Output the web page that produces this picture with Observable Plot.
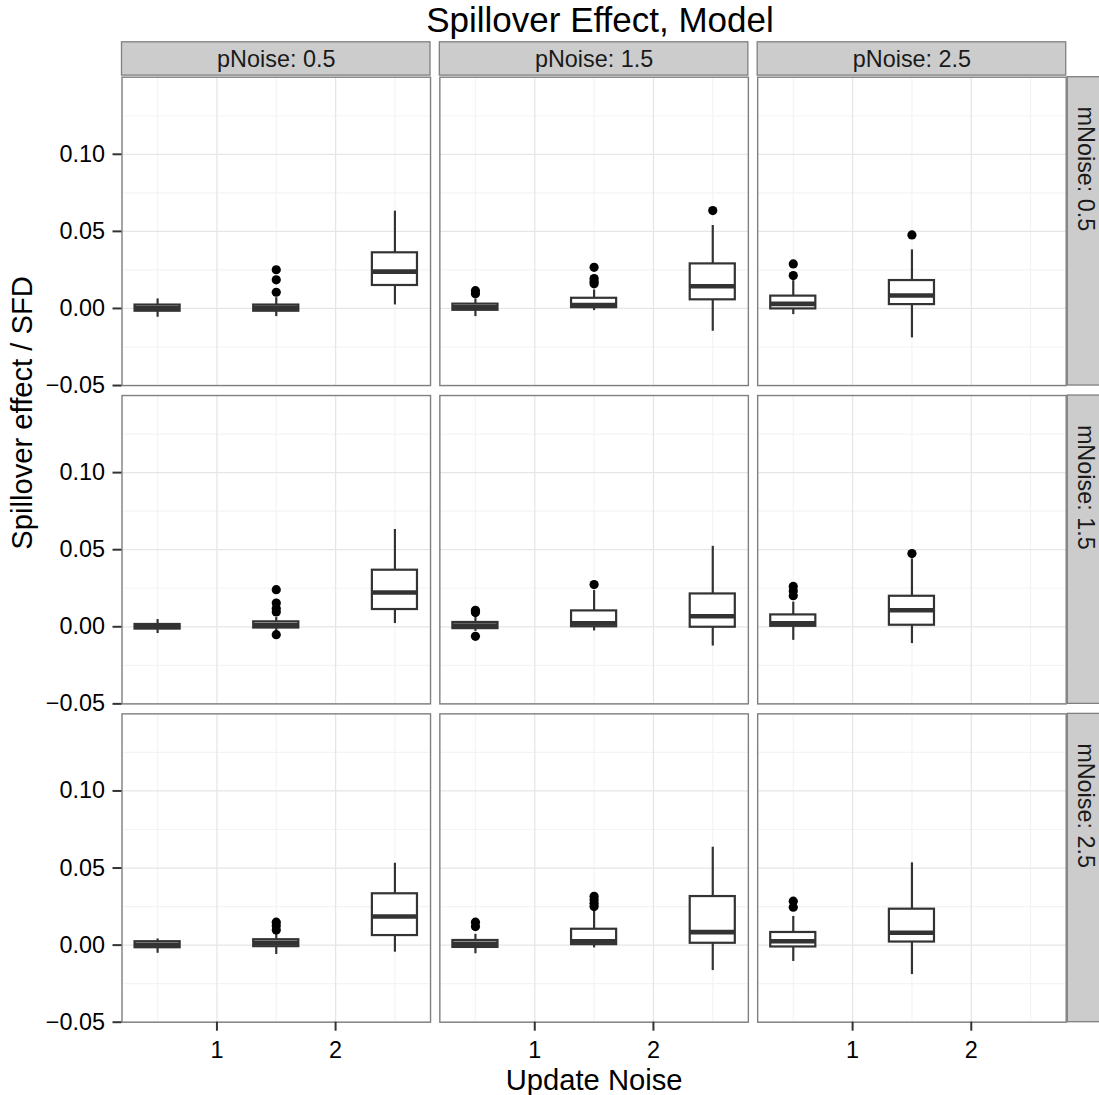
<!DOCTYPE html>
<html><head><meta charset="utf-8">
<script src="https://cdn.jsdelivr.net/npm/d3@7"></script>
<script src="https://cdn.jsdelivr.net/npm/@observablehq/plot@0.6"></script>
<style>
body{margin:0;background:#fff;font-family:"Liberation Sans",Arial,Helvetica,sans-serif;}
#title{height:40px;line-height:40px;font-size:35px;text-align:center;padding-left:101px;width:1099px;box-sizing:border-box;color:#000;white-space:nowrap;}
</style></head><body>
<div id="title">Spillover Effect, Model</div>
<div id="chart"></div>
<script>
// ---- data ----
const pNoiseLabels = ["pNoise: 0.5", "pNoise: 1.5", "pNoise: 2.5"];
const mNoiseLabels = ["mNoise: 0.5", "mNoise: 1.5", "mNoise: 2.5"];
const xTicks = [1, 2];
const yTicks = [-0.05, 0.00, 0.05, 0.10];
const xMinorGrid = [0.5, 1.5, 2.5];
const yMinorGrid = [-0.025, 0.025, 0.075, 0.125];

// one entry per box (mNoise row, pNoise column, update noise)
const boxM = [0.5,0.5,0.5,0.5,0.5,0.5,0.5,0.5, 1.5,1.5,1.5,1.5,1.5,1.5,1.5,1.5, 2.5,2.5,2.5,2.5,2.5,2.5,2.5,2.5];
const boxP = [0.5,0.5,0.5,1.5,1.5,1.5,2.5,2.5, 0.5,0.5,0.5,1.5,1.5,1.5,2.5,2.5, 0.5,0.5,0.5,1.5,1.5,1.5,2.5,2.5];
const boxU = [0.5,1.5,2.5,0.5,1.5,2.5,0.5,1.5, 0.5,1.5,2.5,0.5,1.5,2.5,0.5,1.5, 0.5,1.5,2.5,0.5,1.5,2.5,0.5,1.5];
const boxLo  = [-0.0057,-0.0053,0.0023,-0.0053,-0.0014,-0.0148,-0.0040,-0.0191, -0.0044,-0.0030,0.0021,-0.0030,-0.0027,-0.0125,-0.0088,-0.0109, -0.0053,-0.0061,-0.0046,-0.0056,-0.0018,-0.0165,-0.0106,-0.0191];
const boxQ1  = [-0.0018,-0.0018,0.0149,-0.0012,0.0005,0.0056,-0.0003,0.0025, -0.0015,-0.0008,0.0112,-0.0012,0.0000,-0.0003,0.0003,0.0010, -0.0017,-0.0010,0.0062,-0.0015,0.0003,0.0012,-0.0012,0.0020];
const boxMed = [0.0002,0.0005,0.0239,0.0008,0.0022,0.0144,0.0030,0.0084, 0.0000,0.0012,0.0222,0.0008,0.0022,0.0068,0.0022,0.0107, 0.0002,0.0015,0.0186,0.0008,0.0025,0.0084,0.0025,0.0080];
const boxQ3  = [0.0022,0.0022,0.0361,0.0028,0.0066,0.0289,0.0080,0.0181, 0.0015,0.0032,0.0367,0.0028,0.0103,0.0213,0.0077,0.0198, 0.0022,0.0035,0.0333,0.0030,0.0103,0.0315,0.0082,0.0233];
const boxHi  = [0.0062,0.0070,0.0631,0.0060,0.0120,0.0538,0.0180,0.0380, 0.0047,0.0060,0.0631,0.0060,0.0235,0.0522,0.0160,0.0440, 0.0040,0.0080,0.0531,0.0070,0.0220,0.0635,0.0186,0.0534];

// outliers
const outM = [0.5,0.5,0.5, 0.5,0.5, 0.5,0.5,0.5,0.5, 0.5, 0.5,0.5, 0.5,
              1.5,1.5,1.5,1.5,1.5, 1.5,1.5,1.5, 1.5, 1.5,1.5,1.5, 1.5,
              2.5,2.5,2.5, 2.5,2.5, 2.5,2.5,2.5,2.5, 2.5,2.5];
const outP = [0.5,0.5,0.5, 1.5,1.5, 1.5,1.5,1.5,1.5, 1.5, 2.5,2.5, 2.5,
              0.5,0.5,0.5,0.5,0.5, 1.5,1.5,1.5, 1.5, 2.5,2.5,2.5, 2.5,
              0.5,0.5,0.5, 1.5,1.5, 1.5,1.5,1.5,1.5, 2.5,2.5];
const outU = [1.5,1.5,1.5, 0.5,0.5, 1.5,1.5,1.5,1.5, 2.5, 0.5,0.5, 1.5,
              1.5,1.5,1.5,1.5,1.5, 0.5,0.5,0.5, 1.5, 0.5,0.5,0.5, 1.5,
              1.5,1.5,1.5, 0.5,0.5, 1.5,1.5,1.5,1.5, 0.5,0.5];
const outV = [0.0105,0.0186,0.0251, 0.0115,0.0095, 0.0267,0.0194,0.0175,0.0160, 0.0635, 0.0213,0.0289, 0.0477,
              0.0241,0.0154,0.0118,0.0096,-0.0051, 0.0107,0.0092,-0.0062, 0.0274, 0.0262,0.0232,0.0202, 0.0475,
              0.0149,0.0125,0.0098, 0.0149,0.0120, 0.0317,0.0295,0.0272,0.0250, 0.0285,0.0246];

const title = "Spillover Effect, Model";
const xTitle = "Update Noise";
const yTitle = "Spillover effect / SFD";

// ---- tables ----
const boxes = boxU.map((u, i) => ({
  fx: "pNoise: " + boxP[i], fy: "mNoise: " + boxM[i], u,
  lo: boxLo[i], q1: boxQ1[i], med: boxMed[i], q3: boxQ3[i], hi: boxHi[i]
}));
const outliers = outV.map((v, i) => ({
  fx: "pNoise: " + outP[i], fy: "mNoise: " + outM[i], u: outU[i], v
}));

// ---- layout ----
const W = 1099, H = 1055;
const mL = 121.5, mR = 33.3, mT = 36.7, mB = 73.3;
const pIx = 0.0293, pIy = 0.0314;
const stepX = (W - mL - mR) / (3 - pIx), bwX = stepX * (1 - pIx);
const stepY = (H - mT - mB) / (3 - pIy), bwY = stepY * (1 - pIy);
const stripH = 33.3, stripGap = 1.6;
const half = 0.19;
const ink = "#333333";
const font = "'Liberation Sans', Arial, Helvetica, sans-serif";

const chart = Plot.plot({
  width: W, height: H,
  marginLeft: mL, marginRight: mR, marginTop: mT, marginBottom: mB,
  style: {fontFamily: font, fontSize: "23.4px", color: "#000", background: "transparent", overflow: "visible"},
  x: {domain: [0.2, 2.8], label: null},
  y: {domain: [-0.05, 0.15], label: null},
  fx: {domain: pNoiseLabels, paddingInner: pIx, paddingOuter: 0, round: false, axis: null, label: null},
  fy: {domain: mNoiseLabels, paddingInner: pIy, paddingOuter: 0, round: false, axis: null, label: null},
  marks: [
    // minor then major grid
    Plot.ruleX(xMinorGrid, {stroke: "#f4f4f4", strokeWidth: 1.2}),
    Plot.ruleY(yMinorGrid, {stroke: "#f4f4f4", strokeWidth: 1.2}),
    Plot.ruleX(xTicks, {stroke: "#e6e6e6", strokeWidth: 1.3}),
    Plot.ruleY(yTicks, {stroke: "#e6e6e6", strokeWidth: 1.3}),
    // strips
    Plot.rect(pNoiseLabels, {fx: d => d, fy: () => mNoiseLabels[0], fill: "#cccccc", stroke: "#7f7f7f", strokeWidth: 1.3,
      insetTop: -(stripH + stripGap), insetBottom: bwY + stripGap}),
    Plot.rect(mNoiseLabels, {fy: d => d, fx: () => pNoiseLabels[2], fill: "#cccccc", stroke: "#7f7f7f", strokeWidth: 1.3,
      insetLeft: bwX + stripGap, insetRight: -(stripH + stripGap)}),
    Plot.text(pNoiseLabels, {fx: d => d, fy: () => mNoiseLabels[0], text: d => d, frameAnchor: "top", lineAnchor: "middle",
      dy: -(stripGap + stripH / 2) + 0.5, fill: "#1a1a1a", fontSize: 23.4}),
    Plot.text(mNoiseLabels, {fy: d => d, fx: () => pNoiseLabels[2], text: d => d, frameAnchor: "right", lineAnchor: "middle",
      dx: stripGap + stripH / 2 + 1, rotate: 90, fill: "#1a1a1a", fontSize: 23.4}),
    // boxplots
    Plot.ruleX(boxes, {fx: "fx", fy: "fy", x: "u", y1: "lo", y2: "hi", stroke: ink, strokeWidth: 2.2}),
    Plot.rect(boxes, {fx: "fx", fy: "fy", x1: d => d.u - half, x2: d => d.u + half, y1: "q1", y2: "q3",
      fill: "white", stroke: ink, strokeWidth: 2.2}),
    Plot.ruleY(boxes, {fx: "fx", fy: "fy", y: "med", x1: d => d.u - half, x2: d => d.u + half, stroke: ink, strokeWidth: 4.6}),
    Plot.dot(outliers, {fx: "fx", fy: "fy", x: "u", y: "v", r: 4.6, fill: "#000", stroke: "none"}),
    // panel border
    Plot.frame({stroke: "#7f7f7f", strokeWidth: 1.4}),
    // axes
    Plot.axisY(yTicks, {tickFormat: d3.format(".2f"), tickSize: 9, tickPadding: 8, strokeWidth: 2, stroke: ink, fill: "#000", fontSize: 23.4, label: null}),
    Plot.axisX(xTicks, {tickFormat: d3.format("d"), tickSize: 9, tickPadding: 10, strokeWidth: 2, stroke: ink, fill: "#000", fontSize: 23.4, label: null}),
    // axis titles
    Plot.text([xTitle], {fx: () => pNoiseLabels[1], fy: () => mNoiseLabels[2], text: d => d, frameAnchor: "bottom", lineAnchor: "middle",
      dy: 58, fontSize: 29.2, fill: "#000"}),
    Plot.text([yTitle], {fx: () => pNoiseLabels[0], fy: () => mNoiseLabels[1], text: d => d, frameAnchor: "left", lineAnchor: "middle",
      dx: -99, rotate: -90, fontSize: 29.2, fill: "#000"})
  ]
});
document.getElementById("chart").appendChild(chart);
</script>
</body></html>
